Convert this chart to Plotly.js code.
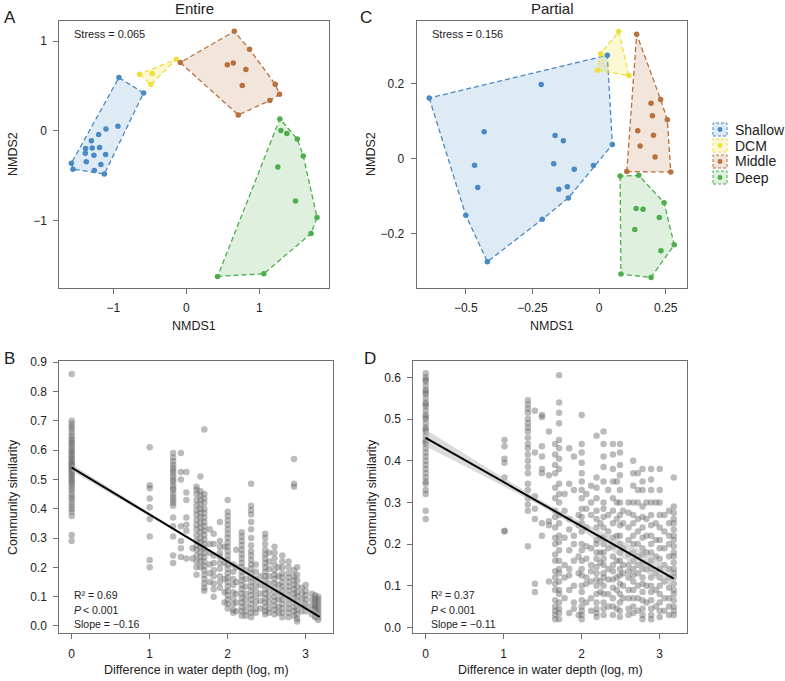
<!DOCTYPE html>
<html>
<head>
<meta charset="utf-8">
<script src="https://cdn.plot.ly/plotly-3.0.1.min.js"></script>
<style>html,body{margin:0;padding:0;background:#fff}#chart{width:785px;height:681px}</style>
</head>
<body>
<div id="chart"></div>
<script>
// ---------------- DATA ----------------
const groupNames = ['Shallow', 'DCM', 'Middle', 'Deep'];

// Panel A (Entire) NMDS scores
const aShallowX = [-0.923, -0.585, -0.937, -1.101, -1.201, -1.301, -1.379, -1.288, -1.188, -1.384, -1.266, -1.105, -1.370, -1.170, -1.575, -1.553, -1.260, -1.123];
const aShallowY = [0.593, 0.422, 0.052, 0.022, -0.040, -0.111, -0.196, -0.189, -0.185, -0.248, -0.270, -0.263, -0.344, -0.373, -0.359, -0.426, -0.441, -0.481];
const aDcmX = [-0.640, -0.466, -0.485, -0.137];
const aDcmY = [0.630, 0.638, 0.516, 0.797];
const aMiddleX = [0.658, 0.867, -0.082, 0.562, 0.644, 0.817, 0.767, 1.219, 1.278, 1.145, 0.712];
const aMiddleY = [1.108, 0.908, 0.760, 0.737, 0.756, 0.682, 0.504, 0.519, 0.408, 0.337, 0.178];
const aDeepX = [1.282, 1.296, 1.378, 1.521, 1.603, 1.255, 1.497, 1.792, 1.710, 1.063, 0.429];
const aDeepY = [0.133, 0.004, -0.029, -0.089, -0.278, -0.403, -0.781, -0.963, -1.141, -1.589, -1.619];

// Panel C (Partial) NMDS scores
const cShallowX = [-0.637, -0.217, 0.031, 0.050, -0.021, -0.093, -0.119, -0.151, -0.115, -0.213, -0.419, -0.500, -0.455, -0.467, -0.431, -0.170, -0.165, -0.134];
const cShallowY = [0.161, 0.197, 0.275, 0.037, -0.019, -0.029, -0.075, -0.082, -0.105, -0.162, -0.275, -0.151, -0.077, -0.018, 0.071, -0.014, 0.061, 0.047];
const cDcmX = [0.006, -0.006, 0.074, 0.112];
const cDcmY = [0.279, 0.235, 0.338, 0.221];
const cMiddleX = [0.141, 0.231, 0.195, 0.256, 0.200, 0.145, 0.204, 0.154, 0.210, 0.104, 0.269];
const cMiddleY = [0.331, 0.157, 0.147, 0.103, 0.114, 0.074, 0.062, 0.033, 0.004, -0.035, -0.036];
const cDeepX = [0.079, 0.149, 0.244, 0.139, 0.165, 0.226, 0.134, 0.282, 0.232, 0.082, 0.195];
const cDeepY = [-0.047, -0.045, -0.118, -0.133, -0.135, -0.157, -0.189, -0.230, -0.246, -0.308, -0.317];

const stressA = 'Stress = 0.065';
const stressC = 'Stress = 0.156';

// Panel B (Entire): similarity vs log depth difference, one list per depth-difference column
const bColX = [0, 1.0, 1.3, 1.4, 1.47, 1.55, 1.6, 1.65, 1.7, 1.77, 1.82, 1.9, 1.96, 2.0, 2.07, 2.11, 2.18, 2.23, 2.3, 2.36, 2.42, 2.48, 2.53, 2.6, 2.65, 2.7, 2.78, 2.85, 2.89, 2.95, 3.0, 3.08, 3.12, 3.16];
const bColY = [
  [0.86, 0.70, 0.69, 0.68, 0.672, 0.66, 0.65, 0.64, 0.632, 0.625, 0.618, 0.61, 0.60, 0.595, 0.588, 0.58, 0.575, 0.568, 0.56, 0.555, 0.55, 0.545, 0.538, 0.535, 0.528, 0.52, 0.515, 0.508, 0.50, 0.495, 0.487, 0.48, 0.47, 0.462, 0.45, 0.44, 0.432, 0.42, 0.41, 0.40, 0.39, 0.375, 0.31, 0.29],
  [0.61, 0.48, 0.47, 0.435, 0.405, 0.365, 0.305, 0.225, 0.20],
  [0.59, 0.575, 0.562, 0.55, 0.54, 0.53, 0.522, 0.51, 0.50, 0.492, 0.48, 0.47, 0.463, 0.45, 0.44, 0.43, 0.42, 0.41, 0.37, 0.34, 0.305, 0.24, 0.215],
  [0.59, 0.525, 0.50, 0.34, 0.29, 0.265, 0.235],
  [0.525, 0.455, 0.43, 0.37, 0.345, 0.325, 0.23],
  [0.265, 0.23],
  [0.475, 0.465, 0.45, 0.43, 0.412, 0.395, 0.38, 0.362, 0.345, 0.33, 0.31, 0.292, 0.275, 0.26, 0.24, 0.22, 0.20, 0.175],
  [0.51, 0.46, 0.445, 0.43, 0.415, 0.40, 0.385, 0.37, 0.352, 0.335, 0.32, 0.30, 0.285, 0.27, 0.252, 0.235, 0.22, 0.20],
  [0.67, 0.45, 0.435, 0.42, 0.40, 0.385, 0.37, 0.355, 0.34, 0.325, 0.31, 0.295, 0.28, 0.265, 0.25, 0.235, 0.22, 0.205, 0.19, 0.175, 0.16, 0.145, 0.13, 0.12],
  [0.33, 0.28, 0.25, 0.21, 0.18, 0.15],
  [0.315, 0.28, 0.24, 0.215, 0.19, 0.17, 0.145, 0.125, 0.10],
  [0.355, 0.29, 0.27, 0.25, 0.235, 0.215, 0.195, 0.17, 0.15, 0.13],
  [0.27, 0.215, 0.16, 0.115, 0.08],
  [0.43, 0.39, 0.375, 0.36, 0.345, 0.33, 0.315, 0.30, 0.285, 0.27, 0.255, 0.24, 0.225, 0.21, 0.195, 0.18, 0.165, 0.15, 0.135, 0.12, 0.105, 0.09, 0.075, 0.06],
  [0.21, 0.185, 0.16, 0.14, 0.115, 0.095, 0.075, 0.055, 0.045],
  [0.26, 0.20, 0.15, 0.11, 0.08, 0.05],
  [0.32, 0.305, 0.29, 0.275, 0.26, 0.245, 0.23, 0.215, 0.20, 0.185, 0.17, 0.155, 0.14, 0.125, 0.11, 0.095, 0.08, 0.065, 0.05, 0.035],
  [0.19, 0.16, 0.135, 0.11, 0.09, 0.07, 0.05, 0.035],
  [0.485, 0.41, 0.395, 0.38, 0.355, 0.33, 0.30, 0.275, 0.255, 0.24, 0.225, 0.21, 0.195, 0.18, 0.165, 0.15, 0.135, 0.12, 0.105, 0.09, 0.075, 0.06, 0.045, 0.03],
  [0.21, 0.185, 0.16, 0.14, 0.12, 0.10, 0.08, 0.06, 0.045],
  [0.17, 0.14, 0.11, 0.085, 0.06],
  [0.315, 0.30, 0.28, 0.26, 0.245, 0.23, 0.215, 0.20, 0.185, 0.17, 0.155, 0.14, 0.125, 0.11, 0.095, 0.08, 0.065, 0.05, 0.04],
  [0.25, 0.22, 0.195, 0.17, 0.145, 0.12, 0.10, 0.08, 0.06, 0.045],
  [0.27, 0.25, 0.23, 0.21, 0.19, 0.175, 0.16, 0.145, 0.13, 0.115, 0.10, 0.085, 0.07, 0.055, 0.04],
  [0.20, 0.17, 0.14, 0.115, 0.09, 0.065, 0.045],
  [0.24, 0.22, 0.20, 0.18, 0.165, 0.15, 0.135, 0.12, 0.105, 0.09, 0.075, 0.06, 0.045, 0.03],
  [0.22, 0.20, 0.18, 0.165, 0.15, 0.135, 0.12, 0.105, 0.09, 0.075, 0.06, 0.045, 0.03],
  [0.57, 0.485, 0.475, 0.19, 0.17, 0.155, 0.14, 0.125, 0.11, 0.095, 0.08, 0.065, 0.05, 0.035],
  [0.20, 0.175, 0.155, 0.135, 0.115, 0.10, 0.085, 0.07, 0.055, 0.04, 0.025, 0.015],
  [0.13, 0.11, 0.09, 0.07, 0.05],
  [0.14, 0.12, 0.105, 0.09, 0.075, 0.065, 0.05],
  [0.11, 0.09, 0.07, 0.055, 0.04],
  [0.105, 0.095, 0.085, 0.075, 0.065, 0.055, 0.045, 0.035, 0.03],
  [0.10, 0.09, 0.08, 0.07, 0.06, 0.05, 0.04, 0.03, 0.02]
];
const bFitX = [0, 1.6, 3.18];
const bFitY = [0.54, 0.284, 0.031];
const bBandHalf = [0.012, 0.004, 0.008];
const bR2 = 'R\u00b2 = 0.69';
const bP = '< 0.001';
const bSlope = 'Slope = \u22120.16';

// Panel D (Partial)
const dColX = [0, 1.01, 1.31, 1.4, 1.49, 1.58, 1.66, 1.71, 1.78, 1.84, 1.9, 1.96, 2.0, 2.06, 2.12, 2.19, 2.24, 2.28, 2.34, 2.4, 2.45, 2.49, 2.53, 2.6, 2.66, 2.72, 2.78, 2.83, 2.89, 2.95, 3.0, 3.06, 3.12, 3.18];
const dColY = [
  [0.61, 0.60, 0.595, 0.59, 0.58, 0.57, 0.565, 0.56, 0.55, 0.54, 0.535, 0.53, 0.52, 0.51, 0.505, 0.50, 0.49, 0.48, 0.475, 0.47, 0.46, 0.45, 0.445, 0.44, 0.43, 0.42, 0.41, 0.40, 0.39, 0.38, 0.37, 0.36, 0.35, 0.345, 0.33, 0.32, 0.28, 0.26],
  [0.45, 0.435, 0.405, 0.395, 0.36, 0.23, 0.232],
  [0.545, 0.535, 0.525, 0.515, 0.50, 0.49, 0.48, 0.47, 0.455, 0.44, 0.43, 0.415, 0.40, 0.385, 0.37, 0.345, 0.33, 0.31, 0.295, 0.28, 0.195],
  [0.52, 0.42, 0.315, 0.285, 0.26, 0.105, 0.085],
  [0.51, 0.505, 0.435, 0.41, 0.38, 0.37, 0.25, 0.22],
  [0.47, 0.365, 0.255, 0.245, 0.11],
  [0.44, 0.415, 0.39, 0.37, 0.335, 0.31, 0.28, 0.265, 0.24, 0.215, 0.20, 0.175, 0.16, 0.135, 0.12, 0.105, 0.09, 0.065, 0.05, 0.04, 0.03, 0.02],
  [0.605, 0.54, 0.515, 0.49, 0.45, 0.43, 0.405, 0.38, 0.345, 0.32, 0.30, 0.27, 0.25, 0.22, 0.205, 0.185, 0.16, 0.14, 0.13, 0.11, 0.09, 0.08, 0.06, 0.045, 0.035, 0.02],
  [0.32, 0.28, 0.215, 0.15, 0.12, 0.07],
  [0.43, 0.345, 0.26, 0.235, 0.185, 0.14, 0.125, 0.09, 0.035],
  [0.41, 0.33, 0.22, 0.20, 0.16, 0.10, 0.06, 0.045],
  [0.27, 0.245, 0.17, 0.13, 0.03],
  [0.51, 0.44, 0.42, 0.395, 0.37, 0.35, 0.33, 0.31, 0.285, 0.265, 0.25, 0.23, 0.20, 0.185, 0.16, 0.14, 0.125, 0.10, 0.085, 0.065, 0.05, 0.04, 0.03, 0.02],
  [0.32, 0.285, 0.24, 0.195, 0.165, 0.12, 0.105, 0.06],
  [0.34, 0.30, 0.27, 0.19, 0.15, 0.135, 0.11, 0.07, 0.04],
  [0.46, 0.36, 0.335, 0.31, 0.28, 0.26, 0.24, 0.21, 0.20, 0.18, 0.165, 0.145, 0.13, 0.115, 0.10, 0.08, 0.06, 0.045, 0.035, 0.025],
  [0.25, 0.215, 0.18, 0.155, 0.11, 0.085],
  [0.47, 0.44, 0.41, 0.385, 0.35, 0.30, 0.285, 0.265, 0.24, 0.215, 0.20, 0.18, 0.165, 0.15, 0.13, 0.12, 0.10, 0.08, 0.06, 0.045, 0.03],
  [0.33, 0.27, 0.23, 0.19, 0.14, 0.115, 0.08, 0.05],
  [0.44, 0.415, 0.38, 0.35, 0.31, 0.28, 0.25, 0.215, 0.195, 0.17, 0.15, 0.135, 0.115, 0.095, 0.07, 0.05, 0.03],
  [0.35, 0.30, 0.26, 0.22, 0.16, 0.12, 0.09, 0.045],
  [0.44, 0.42, 0.39, 0.365, 0.33, 0.30, 0.27, 0.245, 0.22, 0.20, 0.18, 0.16, 0.14, 0.125, 0.105, 0.08, 0.06, 0.04, 0.025],
  [0.28, 0.25, 0.19, 0.15, 0.13, 0.10, 0.07],
  [0.30, 0.275, 0.24, 0.21, 0.175, 0.15, 0.135, 0.12, 0.09, 0.07, 0.045, 0.03],
  [0.40, 0.37, 0.34, 0.30, 0.27, 0.25, 0.22, 0.20, 0.18, 0.16, 0.14, 0.125, 0.11, 0.09, 0.07, 0.05, 0.035],
  [0.37, 0.33, 0.30, 0.26, 0.23, 0.20, 0.17, 0.15, 0.13, 0.10, 0.07, 0.04],
  [0.38, 0.35, 0.33, 0.29, 0.265, 0.24, 0.215, 0.19, 0.175, 0.155, 0.14, 0.12, 0.105, 0.085, 0.065, 0.045, 0.03, 0.02],
  [0.30, 0.26, 0.22, 0.18, 0.14, 0.10, 0.06],
  [0.38, 0.355, 0.33, 0.30, 0.27, 0.245, 0.22, 0.20, 0.18, 0.16, 0.14, 0.12, 0.10, 0.085, 0.065, 0.045, 0.03, 0.02],
  [0.30, 0.25, 0.21, 0.17, 0.13, 0.09, 0.05],
  [0.38, 0.33, 0.30, 0.27, 0.24, 0.21, 0.19, 0.165, 0.14, 0.12, 0.10, 0.08, 0.06, 0.04, 0.025],
  [0.27, 0.23, 0.19, 0.15, 0.11, 0.07, 0.04],
  [0.28, 0.25, 0.22, 0.20, 0.17, 0.14, 0.12, 0.095, 0.07, 0.05, 0.03],
  [0.36, 0.29, 0.275, 0.26, 0.25, 0.235, 0.22, 0.21, 0.195, 0.18, 0.17, 0.155, 0.14, 0.13, 0.12, 0.105, 0.09, 0.08, 0.065, 0.05, 0.04, 0.03]
];
const dFitX = [0, 1.6, 3.18];
const dFitY = [0.455, 0.285, 0.117];
const dBandHalf = [0.02, 0.007, 0.015];
const dR2 = 'R\u00b2 = 0.37';
const dP = '< 0.001';
const dSlope = 'Slope = \u22120.11';

const bTickVals = [0, 0.1, 0.2, 0.3, 0.4, 0.5, 0.6, 0.7, 0.8, 0.9];
const dTickVals = [0, 0.1, 0.2, 0.3, 0.4, 0.5, 0.6];
const depthTickVals = [0, 1, 2, 3];

// ---------------- STYLE ----------------
const W = 785, H = 681;
const FONT = 'Liberation Sans, Arial, Helvetica, sans-serif';
const lineCols = ['rgb(74,137,196)', 'rgb(240,222,60)', 'rgb(184,112,60)', 'rgb(77,174,77)'];
const fillCols = ['rgba(74,137,196,0.18)', 'rgba(240,222,60,0.22)', 'rgba(184,112,60,0.18)', 'rgba(77,174,77,0.18)'];
const DASH = '5px,3px';
const px = v => v / W;
const py = v => 1 - v / H;

function hull(xs, ys) {
  const pts = xs.map((x, i) => [x, ys[i]]).sort((a, b) => a[0] - b[0] || a[1] - b[1]);
  const cross = (o, a, b) => (a[0] - o[0]) * (b[1] - o[1]) - (a[1] - o[1]) * (b[0] - o[0]);
  const lower = [], upper = [];
  for (const p of pts) { while (lower.length >= 2 && cross(lower[lower.length - 2], lower[lower.length - 1], p) <= 0) lower.pop(); lower.push(p); }
  for (let i = pts.length - 1; i >= 0; i--) { const p = pts[i]; while (upper.length >= 2 && cross(upper[upper.length - 2], upper[upper.length - 1], p) <= 0) upper.pop(); upper.push(p); }
  upper.pop(); lower.pop();
  const h = lower.concat(upper); h.push(h[0]);
  return { x: h.map(p => p[0]), y: h.map(p => p[1]) };
}

const traces = [];
function nmdsPanel(sets, xa, ya) {
  sets.forEach((s, i) => {
    const h = hull(s[0], s[1]);
    traces.push({ type: 'scatter', mode: 'lines', x: h.x, y: h.y, xaxis: xa, yaxis: ya, fill: 'toself',
      fillcolor: fillCols[i], line: { color: lineCols[i], width: 1.3, dash: DASH },
      name: groupNames[i], showlegend: false, hoverinfo: 'skip' });
  });
  sets.forEach((s, i) => {
    traces.push({ type: 'scatter', mode: 'markers', x: s[0], y: s[1], xaxis: xa, yaxis: ya,
      marker: { color: lineCols[i], size: 5.5 }, name: groupNames[i], showlegend: false });
  });
}
nmdsPanel([[aShallowX, aShallowY], [aDcmX, aDcmY], [aMiddleX, aMiddleY], [aDeepX, aDeepY]], 'x', 'y');
nmdsPanel([[cShallowX, cShallowY], [cDcmX, cDcmY], [cMiddleX, cMiddleY], [cDeepX, cDeepY]], 'x2', 'y2');

function simPanel(colX, colY, fitX, fitY, half, xa, ya) {
  const xs = [], ys = [];
  colX.forEach((cx, i) => colY[i].forEach(v => { xs.push(cx); ys.push(v); }));
  traces.push({ type: 'scatter', mode: 'markers', x: xs, y: ys, xaxis: xa, yaxis: ya, showlegend: false,
    marker: { color: 'rgba(105,105,105,0.45)', size: 6.5 } });
  const up = fitY.map((v, i) => v + half[i]);
  const lo = fitY.map((v, i) => v - half[i]);
  traces.push({ type: 'scatter', mode: 'lines', x: fitX.concat(fitX.slice().reverse()), y: up.concat(lo.slice().reverse()),
    xaxis: xa, yaxis: ya, fill: 'toself', fillcolor: 'rgba(190,190,190,0.55)', line: { width: 0, shape: 'spline' }, showlegend: false, hoverinfo: 'skip' });
  traces.push({ type: 'scatter', mode: 'lines', x: [fitX[0], fitX[fitX.length - 1]], y: [fitY[0], fitY[fitY.length - 1]],
    xaxis: xa, yaxis: ya, line: { color: '#000', width: 2 }, showlegend: false });
}
simPanel(bColX, bColY, bFitX, bFitY, bBandHalf, 'x3', 'y3');
simPanel(dColX, dColY, dFitX, dFitY, dBandHalf, 'x4', 'y4');

const axBase = {
  showline: true, mirror: true, linecolor: '#707070', linewidth: 1, ticks: 'outside', ticklen: 5, tickwidth: 1,
  tickcolor: '#707070', showgrid: false, zeroline: false, tickfont: { family: FONT, size: 12, color: '#222' },
  automargin: false, fixedrange: true, ticklabelstandoff: 4
};
const fmt = v => v.toFixed(1);
const minus = v => (v < 0 ? '\u2212' + Math.abs(v) : String(v));

const layout = {
  width: W, height: H, margin: { l: 0, r: 0, t: 0, b: 0 }, paper_bgcolor: '#fff', plot_bgcolor: '#fff',
  font: { family: FONT, color: '#222' }, showlegend: false,
  xaxis: Object.assign({}, axBase, { domain: [px(59.3), px(329.3)], range: [-1.74, 1.96], tickvals: [-1, 0, 1], ticktext: [-1, 0, 1].map(minus), anchor: 'y' }),
  yaxis: Object.assign({}, axBase, { domain: [py(288), py(20.7)], range: [-1.748, 1.226], tickvals: [-1, 0, 1], ticktext: [-1, 0, 1].map(minus), anchor: 'x' }),
  xaxis2: Object.assign({}, axBase, { domain: [px(416.7), px(687.3)], range: [-0.684, 0.331], tickvals: [-0.5, -0.25, 0, 0.25], ticktext: [-0.5, -0.25, 0, 0.25].map(minus), anchor: 'y2' }),
  yaxis2: Object.assign({}, axBase, { domain: [py(288), py(20.7)], range: [-0.345, 0.367], tickvals: [-0.2, 0, 0.2], ticktext: [-0.2, 0, 0.2].map(minus), anchor: 'x2' }),
  xaxis3: Object.assign({}, axBase, { domain: [px(59.3), px(332.7)], range: [-0.159, 3.346], tickvals: depthTickVals, ticktext: depthTickVals.map(String), anchor: 'y3' }),
  yaxis3: Object.assign({}, axBase, { domain: [py(633.3), py(360.7)], range: [-0.025, 0.905], tickvals: bTickVals, ticktext: bTickVals.map(fmt), anchor: 'x3' }),
  xaxis4: Object.assign({}, axBase, { domain: [px(413.3), px(686.7)], range: [-0.159, 3.346], tickvals: depthTickVals, ticktext: depthTickVals.map(String), anchor: 'y4' }),
  yaxis4: Object.assign({}, axBase, { domain: [py(633.3), py(360.7)], range: [-0.014, 0.64], tickvals: dTickVals, ticktext: dTickVals.map(fmt), anchor: 'x4' }),
  annotations: [],
  shapes: []
};

function ann(text, x, y, opt) {
  layout.annotations.push(Object.assign({ text: text, x: px(x), y: py(y), xref: 'paper', yref: 'paper', showarrow: false,
    xanchor: 'center', yanchor: 'middle', font: { family: FONT, size: 12, color: '#222' } }, opt || {}));
}
ann('A', 2, 18, { xanchor: 'left', font: { family: FONT, size: 17, color: '#222' } });
ann('C', 358, 18, { xanchor: 'left', font: { family: FONT, size: 17, color: '#222' } });
ann('B', 2, 358, { xanchor: 'left', font: { family: FONT, size: 17, color: '#222' } });
ann('D', 362, 358, { xanchor: 'left', font: { family: FONT, size: 17, color: '#222' } });
ann('Entire', 194, 9, { font: { family: FONT, size: 15, color: '#222' } });
ann('Partial', 552, 9, { font: { family: FONT, size: 15, color: '#222' } });
ann(stressA, 72, 34, { xanchor: 'left', font: { family: FONT, size: 11, color: '#222' } });
ann(stressC, 430, 34, { xanchor: 'left', font: { family: FONT, size: 11, color: '#222' } });
ann('NMDS1', 194, 326, { font: { family: FONT, size: 12.5, color: '#222' } });
ann('NMDS1', 552, 326, { font: { family: FONT, size: 12.5, color: '#222' } });
ann('NMDS2', 13, 154, { textangle: -90, font: { family: FONT, size: 12.5, color: '#222' } });
ann('NMDS2', 371, 154, { textangle: -90, font: { family: FONT, size: 12.5, color: '#222' } });
ann('Community similarity', 13, 497, { textangle: -90, font: { family: FONT, size: 12.5, color: '#222' } });
ann('Community similarity', 372, 497, { textangle: -90, font: { family: FONT, size: 12.5, color: '#222' } });
ann('Difference in water depth (log, m)', 196, 670, { font: { family: FONT, size: 12.5, color: '#222' } });
ann('Difference in water depth (log, m)', 550, 670, { font: { family: FONT, size: 12.5, color: '#222' } });

const statFont = { family: FONT, size: 10.5, color: '#222' };
const statFontIt = { family: FONT, size: 10.5, color: '#222', style: 'italic' };
[[72, bR2, bP, bSlope], [429, dR2, dP, dSlope]].forEach(r => {
  const x0 = r[0];
  ann(r[1], x0, 595, { xanchor: 'left', font: statFont });
  ann('P', x0, 609.5, { xanchor: 'left', font: statFontIt });
  ann(r[2], x0 + 9, 609.5, { xanchor: 'left', font: statFont });
  ann(r[3], x0, 624, { xanchor: 'left', font: statFont });
});

// legend (key square with dashed border, fill and dot, as in the reference)
const legendRows = [129.5, 145.5, 161.5, 177.5];
groupNames.forEach((g, i) => {
  const cy = legendRows[i];
  layout.shapes.push({ type: 'rect', xref: 'paper', yref: 'paper', x0: px(713), x1: px(727), y0: py(cy + 6.5), y1: py(cy - 6.5),
    fillcolor: fillCols[i], line: { color: lineCols[i], width: 1, dash: '3px,2px' } });
  layout.shapes.push({ type: 'circle', xref: 'paper', yref: 'paper', x0: px(717.6), x1: px(722.4), y0: py(cy + 2.4), y1: py(cy - 2.4),
    fillcolor: lineCols[i], line: { width: 0 } });
  ann(g, 733, cy, { xanchor: 'left', font: { family: FONT, size: 14, color: '#222' } });
});

Plotly.newPlot('chart', traces, layout, { staticPlot: true, displayModeBar: false });
</script>
</body>
</html>
